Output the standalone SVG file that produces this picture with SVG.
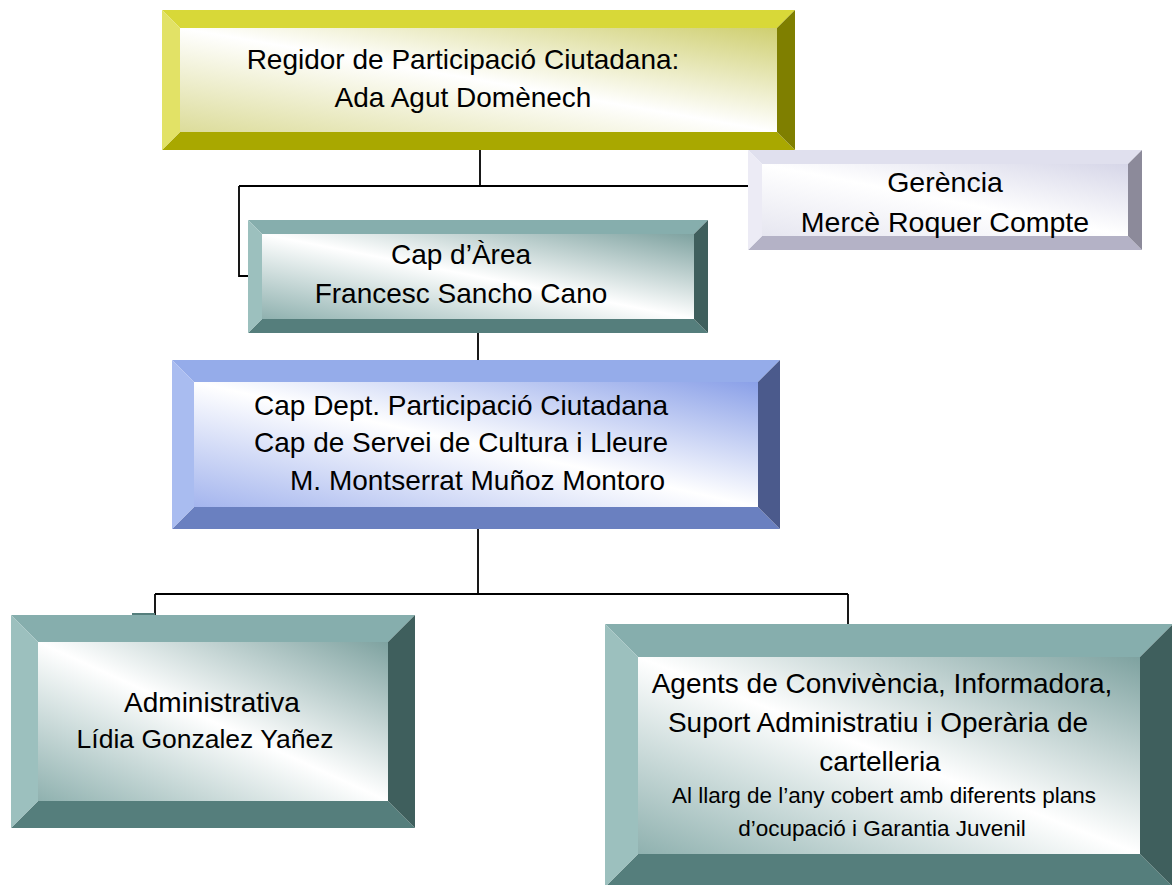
<svg xmlns="http://www.w3.org/2000/svg" width="1172" height="885" viewBox="0 0 1172 885">
<defs>
<linearGradient id="gY" x1="1" y1="0" x2="0" y2="1"><stop offset="0" stop-color="#cfcf70"/><stop offset="0.5" stop-color="#ffffff"/><stop offset="1" stop-color="#dcdc9a"/></linearGradient>
<linearGradient id="gL" x1="1" y1="0" x2="0" y2="1"><stop offset="0" stop-color="#d6d6e8"/><stop offset="0.5" stop-color="#ffffff"/><stop offset="1" stop-color="#e6e6f0"/></linearGradient>
<linearGradient id="gT" x1="1" y1="0" x2="0" y2="1"><stop offset="0" stop-color="#7ea2a0"/><stop offset="0.5" stop-color="#ffffff"/><stop offset="1" stop-color="#8fb1af"/></linearGradient>
<linearGradient id="gB" x1="1" y1="0" x2="0" y2="1"><stop offset="0" stop-color="#8aa0e8"/><stop offset="0.5" stop-color="#ffffff"/><stop offset="1" stop-color="#a4b5ee"/></linearGradient>
</defs>
<style>
text{font-family:"Liberation Sans",Arial,sans-serif;fill:#000}
.c{text-anchor:middle}
.y .t{fill:#d8d838}.y .l{fill:#e2e266}.y .r{fill:#7f7f00}.y .b{fill:#a9a800}.y .i{fill:url(#gY)}
.v .t{fill:#e0e0ee}.v .l{fill:#ecebf5}.v .r{fill:#8c8a9a}.v .b{fill:#b4b2c6}.v .i{fill:url(#gL)}
.g .t{fill:#86aead}.g .l{fill:#9cc0be}.g .r{fill:#3f5f5d}.g .b{fill:#557e7c}.g .i{fill:url(#gT)}
.u .t{fill:#95acea}.u .l{fill:#a9bcf0}.u .r{fill:#4b5a8c}.u .b{fill:#6a80c0}.u .i{fill:url(#gB)}
.conn{fill:none;stroke:#000;stroke-width:1.8}
</style>
<g id="connectors">
<path class="conn" d="M480,150 V186 M239,186 H748 M239,186 V276 H248"/>
<path class="conn" d="M478,333 V360"/>
<path class="conn" d="M478,529 V594 M155,594 H848 M155,594 V615 M848,594 V624"/>
</g>
<g id="regidor" class="y">
<polygon class="t" points="162,10 795,10 777,28 180,28"/>
<polygon class="b" points="162,150 795,150 777,132 180,132"/>
<polygon class="l" points="162,10 180,28 180,132 162,150"/>
<polygon class="r" points="795,10 777,28 777,132 795,150"/>
<rect class="i" x="180" y="28" width="597" height="104"/>
<text class="c" x="463" y="69" font-size="28">Regidor de Participació Ciutadana:</text>
<text class="c" x="463" y="107" font-size="28">Ada Agut Domènech</text>
</g>
<g id="gerencia" class="v">
<polygon class="t" points="748,150 1142,150 1128,164 762,164"/>
<polygon class="b" points="748,250 1142,250 1128,236 762,236"/>
<polygon class="l" points="748,150 762,164 762,236 748,250"/>
<polygon class="r" points="1142,150 1128,164 1128,236 1142,250"/>
<rect class="i" x="762" y="164" width="366" height="72"/>
<text class="c" x="945" y="192" font-size="28.5">Gerència</text>
<text class="c" x="945" y="232" font-size="28.5">Mercè Roquer Compte</text>
</g>
<g id="cap-area" class="g">
<polygon class="t" points="248,220 708,220 694,234 262,234"/>
<polygon class="b" points="248,333 708,333 694,319 262,319"/>
<polygon class="l" points="248,220 262,234 262,319 248,333"/>
<polygon class="r" points="708,220 694,234 694,319 708,333"/>
<rect class="i" x="262" y="234" width="432" height="85"/>
<text class="c" x="461" y="264" font-size="28">Cap d’Àrea</text>
<text class="c" x="461" y="303" font-size="28">Francesc Sancho Cano</text>
</g>
<g id="cap-dept" class="u">
<polygon class="t" points="172,360 780,360 758,382 194,382"/>
<polygon class="b" points="172,529 780,529 758,507 194,507"/>
<polygon class="l" points="172,360 194,382 194,507 172,529"/>
<polygon class="r" points="780,360 758,382 758,507 780,529"/>
<rect class="i" x="194" y="382" width="564" height="125"/>
<text x="254" y="415" font-size="28">Cap Dept. Participació Ciutadana</text>
<text x="254" y="452" font-size="28">Cap de Servei de Cultura i Lleure</text>
<text x="290" y="490" font-size="28">M. Montserrat Muñoz Montoro</text>
</g>
<g id="administrativa" class="g">
<rect x="132" y="613" width="23" height="2" fill="#557e7c"/>
<polygon class="t" points="11,615 415,615 388,642 38,642"/>
<polygon class="b" points="11,828 415,828 388,801 38,801"/>
<polygon class="l" points="11,615 38,642 38,801 11,828"/>
<polygon class="r" points="415,615 388,642 388,801 415,828"/>
<rect class="i" x="38" y="642" width="350" height="159"/>
<text class="c" x="212" y="712" font-size="28">Administrativa</text>
<text class="c" x="205" y="748" font-size="26.5">Lídia Gonzalez Yañez</text>
</g>
<g id="agents" class="g">
<polygon class="t" points="605,624 1173,624 1140,657 638,657"/>
<polygon class="b" points="605,887 1173,887 1140,854 638,854"/>
<polygon class="l" points="605,624 638,657 638,854 605,887"/>
<polygon class="r" points="1173,624 1140,657 1140,854 1173,887"/>
<rect class="i" x="638" y="657" width="502" height="197"/>
<text class="c" x="882" y="693" font-size="28">Agents de Convivència, Informadora,</text>
<text class="c" x="878" y="732" font-size="28">Suport Administratiu i Operària de</text>
<text class="c" x="880" y="771" font-size="28">cartelleria</text>
<text class="c" x="884" y="803" font-size="22.5">Al llarg de l’any cobert amb diferents plans</text>
<text class="c" x="882" y="836" font-size="22.5">d’ocupació i Garantia Juvenil</text>
</g>
</svg>
